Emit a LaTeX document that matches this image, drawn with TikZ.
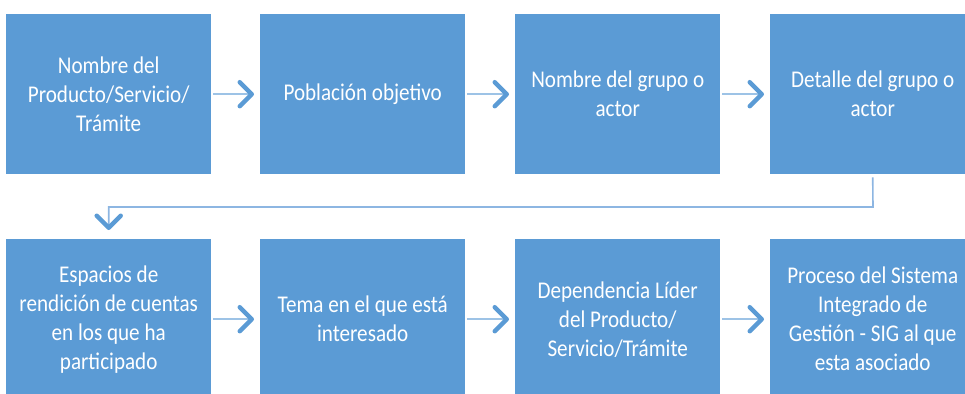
\documentclass[tikz,border=0pt]{standalone}
\usepackage{fontspec}
\setmainfont{Carlito}[FakeStretch=0.88]
\usetikzlibrary{arrows.meta}
\definecolor{boxblue}{HTML}{5B9BD5}
\definecolor{linblue}{HTML}{9DC3E6}
\definecolor{connblue}{HTML}{8DB6E2}
\begin{document}
\begin{tikzpicture}[x=1pt,y=-1pt,
  box/.style={fill=boxblue, draw=none, minimum width=205pt, minimum height=160pt,
    anchor=north west, inner sep=0pt, text=white, align=center,
    font=\fontsize{24}{29}\selectfont},
  chev/.tip={Straight Barb[length=12pt, width=24pt, line width=4.5pt, color=boxblue, round]},
  flow/.style={draw=linblue, line width=2pt, -chev, shorten <=2pt, shorten >=6pt},
  conn/.style={draw=connblue, line width=1.6pt, -chev, shorten >=9pt}]
\useasboundingbox (0,0) rectangle (965,393);
% row 1
\node[box] (b1) at (6,14)   {Nombre del\\Producto/Servicio/\\Trámite};
\node[box] (b2) at (260,14) {Población objetivo};
\node[box] (b3) at (515,14) {Nombre del grupo o\\actor};
\node[box] (b4) at (770,14) {Detalle del grupo o\\actor};
% row 2
\node[box] (b5) at (6,239)   {Espacios de\\rendición de cuentas\\en los que ha\\participado};
\node[box] (b6) at (260,239) {Tema en el que está\\interesado};
\node[box] (b7) at (515,239) {Dependencia Líder\\del Producto/\\Servicio/Trámite};
\node[box] (b8) at (770,239) {Proceso del Sistema\\Integrado de\\Gestión - SIG al que\\esta asociado};
% arrows
\draw[flow] (b1) -- (b2);
\draw[flow] (b2) -- (b3);
\draw[flow] (b3) -- (b4);
\draw[flow] (b5) -- (b6);
\draw[flow] (b6) -- (b7);
\draw[flow] (b7) -- (b8);
\coordinate (bend) at (873,207);
\draw[conn] ([yshift=-3pt]b4.south) -- (bend) -| (b5.north);
\end{tikzpicture}
\end{document}
